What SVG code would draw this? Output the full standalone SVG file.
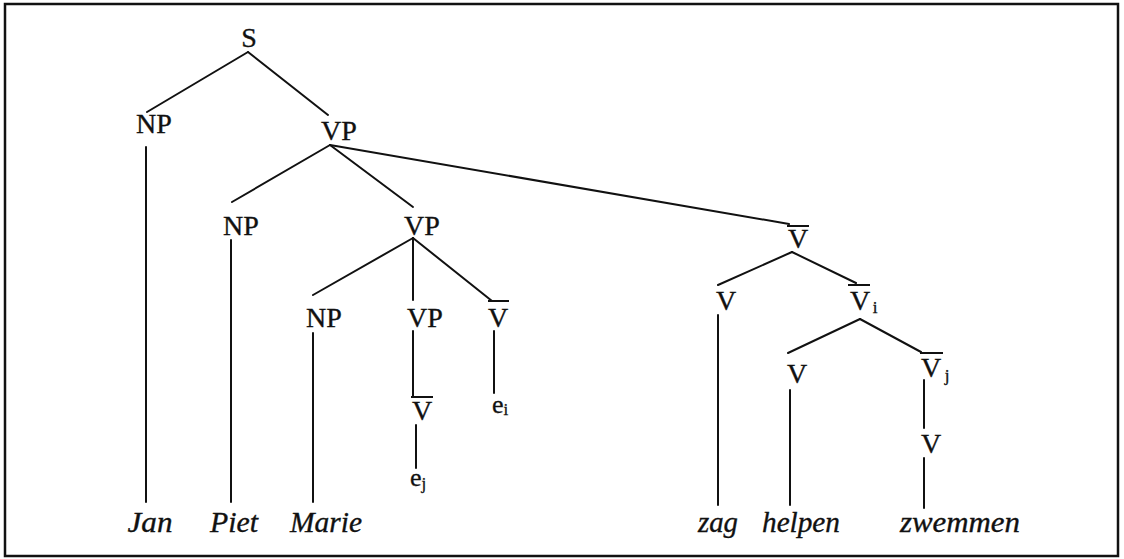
<svg xmlns="http://www.w3.org/2000/svg" width="1124" height="559" viewBox="0 0 1124 559">
<style>
.lbl{font-family:"Liberation Serif","DejaVu Serif",serif;font-size:28px;fill:#111;stroke:#111;stroke-width:0.35;text-anchor:middle}
.sub{font-size:17px}
.word{font-family:"Liberation Serif","DejaVu Serif",serif;font-style:italic;font-size:29px;fill:#111;stroke:#111;stroke-width:0.35;text-anchor:middle}
.e{font-family:"Liberation Serif","DejaVu Serif",serif;font-size:26px;fill:#111;stroke:#111;stroke-width:0.3}
.bar{stroke:#111;stroke-width:2}
.edges line{stroke:#111;stroke-width:2;stroke-linecap:round}
</style>
<rect x="5" y="4" width="1113" height="552" fill="#fff" stroke="#111" stroke-width="2.5"/>
<g class="edges" id="connectors">
<line x1="248" y1="52" x2="147" y2="112"/>
<line x1="248" y1="52" x2="328" y2="115"/>
<line x1="146" y1="147" x2="146" y2="502"/>
<line x1="330" y1="145" x2="232" y2="202"/>
<line x1="330" y1="145" x2="413" y2="207"/>
<line x1="330" y1="145" x2="789" y2="224"/>
<line x1="231" y1="240" x2="231" y2="502"/>
<line x1="413" y1="238" x2="313" y2="295"/>
<line x1="413" y1="238" x2="413" y2="300"/>
<line x1="413" y1="238" x2="492" y2="301"/>
<line x1="313" y1="333" x2="313" y2="502"/>
<line x1="413" y1="331" x2="413" y2="397"/>
<line x1="416" y1="425" x2="416" y2="468"/>
<line x1="494" y1="331" x2="494" y2="393"/>
<line x1="792" y1="252" x2="718" y2="285"/>
<line x1="792" y1="252" x2="856" y2="283"/>
<line x1="718" y1="315" x2="718" y2="505"/>
<line x1="860" y1="319" x2="788" y2="353"/>
<line x1="860" y1="319" x2="921" y2="352"/>
<line x1="790" y1="390" x2="790" y2="505"/>
<line x1="924" y1="380" x2="924" y2="428"/>
<line x1="924" y1="458" x2="924" y2="508"/>
</g>
<g id="n-S"><text class="lbl" x="249" y="47">S</text></g>
<g id="n-NP1"><text class="lbl" x="154" y="133">NP</text></g>
<g id="n-VP1"><text class="lbl" x="339" y="140">VP</text></g>
<g id="n-NP2"><text class="lbl" x="241" y="235">NP</text></g>
<g id="n-VP2"><text class="lbl" x="422" y="235">VP</text></g>
<g id="n-NP3"><text class="lbl" x="324" y="327">NP</text></g>
<g id="n-VP3"><text class="lbl" x="425" y="327">VP</text></g>
<g id="n-Vbar-ei"><line class="bar" x1="488" y1="301" x2="509" y2="301"/><text class="lbl" x="498" y="327">V</text></g>
<g id="n-ei"><text class="e" x="492" y="413">e<tspan class="sub" dy="2">i</tspan></text></g>
<g id="n-Vbar-ej"><line class="bar" x1="411" y1="397" x2="433" y2="397"/><text class="lbl" x="422" y="420">V</text></g>
<g id="n-ej"><text class="e" x="410" y="486">e<tspan class="sub" dy="3">j</tspan></text></g>
<g id="n-Vbar"><line class="bar" x1="787" y1="226" x2="809" y2="226"/><text class="lbl" x="798" y="248">V</text></g>
<g id="n-V-zag"><text class="lbl" x="726" y="310">V</text></g>
<g id="n-Vbar-i"><line class="bar" x1="848" y1="285" x2="870" y2="285"/><text class="lbl" x="860" y="310">V</text><text class="lbl sub" x="875" y="313">i</text></g>
<g id="n-V-helpen"><text class="lbl" x="797" y="383">V</text></g>
<g id="n-Vbar-j"><line class="bar" x1="920" y1="353" x2="943" y2="353"/><text class="lbl" x="931" y="377">V</text><text class="lbl sub" x="947" y="381">j</text></g>
<g id="n-V-zwemmen"><text class="lbl" x="931" y="453">V</text></g>
<g id="w-Jan"><text class="word" x="150" y="532" textLength="45" lengthAdjust="spacingAndGlyphs">Jan</text></g>
<g id="w-Piet"><text class="word" x="234" y="532" textLength="48" lengthAdjust="spacingAndGlyphs">Piet</text></g>
<g id="w-Marie"><text class="word" x="326" y="532" textLength="72" lengthAdjust="spacingAndGlyphs">Marie</text></g>
<g id="w-zag"><text class="word" x="718" y="532" textLength="40" lengthAdjust="spacingAndGlyphs">zag</text></g>
<g id="w-helpen"><text class="word" x="801" y="532" textLength="78" lengthAdjust="spacingAndGlyphs">helpen</text></g>
<g id="w-zwemmen"><text class="word" x="960" y="532" textLength="120" lengthAdjust="spacingAndGlyphs">zwemmen</text></g>
</svg>
